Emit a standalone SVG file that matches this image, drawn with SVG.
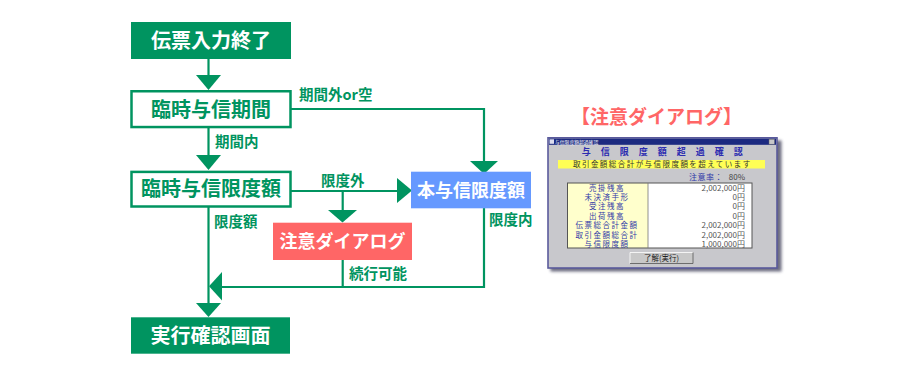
<svg xmlns="http://www.w3.org/2000/svg" width="900" height="379" viewBox="0 0 900 379">
<defs>
<style>
text{font-family:"Noto Sans CJK JP","Noto Sans",sans-serif}
.fill{fill:#009460}
.out{fill:#fff;stroke:#009460;stroke-width:2.5}
.bt{font-size:20px;font-weight:700;text-anchor:middle}
.w{fill:#fff}
.g{fill:#009460}
.lbl{font-size:14.5px;font-weight:700;fill:#009460}
.ln{fill:none;stroke:#009460;stroke-width:2.2}
.ah{fill:#009460}
.dl{font-size:7.5px;fill:#3038a8;text-anchor:middle;letter-spacing:1.5px}
.dv{font-size:8px;fill:#555;text-anchor:end}
</style>
<filter id="sh" x="-10%" y="-10%" width="120%" height="120%"><feGaussianBlur stdDeviation="1.5"/></filter>
</defs>
<rect width="900" height="379" fill="#fff"/>

<g id="connectors">
<line class="ln" x1="208.5" y1="59" x2="208.5" y2="76"/>
<polygon class="ah" points="196,75 221,75 208.5,90"/>
<line class="ln" x1="208.5" y1="128" x2="208.5" y2="156"/>
<polygon class="ah" points="196,155 221,155 208.5,170"/>
<polyline class="ln" points="291,109 484,109 484,162"/>
<polygon class="ah" points="470,161 498,161 484,174"/>
<line class="ln" x1="291" y1="191" x2="398" y2="191"/>
<polygon class="ah" points="397,178 397,203 412,190.5"/>
<line class="ln" x1="342.7" y1="191" x2="342.7" y2="211"/>
<polygon class="ah" points="328,210 357,210 342.5,222.5"/>
<polyline class="ln" points="484,208 484,287 221,287"/>
<polygon class="ah" points="222,272 222,300.5 209,286.3"/>
<line class="ln" x1="342.7" y1="260" x2="342.7" y2="287"/>
<line class="ln" x1="208.5" y1="207" x2="208.5" y2="304"/>
<polygon class="ah" points="196,303 221,303 208.5,317"/>
<text class="lbl" x="299" y="100">期間外or空</text>
<text class="lbl" x="215" y="147">期間内</text>
<text class="lbl" x="321" y="185.5">限度外</text>
<text class="lbl" x="214" y="227">限度額</text>
<text class="lbl" x="489" y="225">限度内</text>
<text class="lbl" x="349" y="279">続行可能</text>
</g>

<g id="n-start">
<rect class="fill" x="131" y="22" width="160" height="37"/>
<text class="bt w" x="211" y="47.5">伝票入力終了</text>
</g>
<g id="n-period">
<rect class="out" x="131.5" y="91.25" width="159" height="35.8"/>
<text class="bt g" x="211" y="116.5">臨時与信期間</text>
</g>
<g id="n-templimit">
<rect class="out" x="131.5" y="171.9" width="159" height="34.6"/>
<text class="bt g" x="211" y="196">臨時与信限度額</text>
</g>
<g id="n-mainlimit">
<rect x="411" y="171.7" width="120" height="36.6" fill="#6699ff"/>
<text class="bt w" x="471" y="196.5" style="font-size:18px">本与信限度額</text>
</g>
<g id="n-caution">
<rect x="273" y="222.7" width="139" height="37.3" fill="#ff6666"/>
<text class="bt w" x="342.5" y="248" style="font-size:18px">注意ダイアログ</text>
</g>
<g id="n-confirm">
<rect class="fill" x="131" y="317.3" width="159" height="36.4"/>
<text class="bt w" x="210.5" y="342.5">実行確認画面</text>
</g>

<g id="dialog-sample">
<text x="656.5" y="124" style="font-size:19px;font-weight:700;fill:#ff6666;text-anchor:middle">【注意ダイアログ】</text>
<rect x="550.5" y="140.5" width="231" height="131" fill="#3a3a55" opacity="0.75" filter="url(#sh)"/>
<rect x="548" y="137.8" width="229" height="130.2" fill="#c8c8cc" stroke="#5a5a9c" stroke-width="1.6"/>
<rect x="549" y="138.6" width="227" height="6.2" fill="#1c2a80"/>
<rect x="549.5" y="139.3" width="4.5" height="4.5" fill="#dde"/>
<text x="555" y="143.6" style="font-size:4.8px;fill:#fff">与信限度額超過確認</text>
<rect x="769" y="139.2" width="5.5" height="5" fill="#c8c8c8" stroke="#666" stroke-width="0.5"/>
<text x="581.7" y="155" style="font-size:9px;font-weight:700;fill:#2b2bb0;letter-spacing:10px">与信限度額超過確認</text>
<rect x="558" y="160" width="207" height="8.5" fill="#ffff55"/>
<text x="573" y="167" style="font-size:7.5px;fill:#333;letter-spacing:1.45px">取引金額総合計が与信限度額を超えています</text>
<text x="689" y="180" style="font-size:8px;fill:#3038a8;letter-spacing:0.5px">注意率：</text>
<text x="745" y="180" class="dv" style="fill:#444">80%</text>
<rect x="567.5" y="183" width="80.5" height="65" fill="#ffffcc"/>
<rect x="648" y="183" width="104" height="65" fill="#fff"/>
<rect x="567.5" y="183" width="184.5" height="65" fill="none" stroke="#555" stroke-width="1"/>
<line x1="648" y1="183" x2="648" y2="248" stroke="#777" stroke-width="0.8"/>
<text class="dl" x="607" y="190.5">売掛残高</text>
<text class="dl" x="607" y="199.9">未決済手形</text>
<text class="dl" x="607" y="209.3">受注残高</text>
<text class="dl" x="607" y="218.7">出荷残高</text>
<text class="dl" x="607" y="228.1">伝票総合計金額</text>
<text class="dl" x="607" y="237.5">取引金額総合計</text>
<text class="dl" x="607" y="246.9">与信限度額</text>
<text class="dv" x="745" y="190.5">2,002,000円</text>
<text class="dv" x="745" y="199.9">0円</text>
<text class="dv" x="745" y="209.3">0円</text>
<text class="dv" x="745" y="218.7">0円</text>
<text class="dv" x="745" y="228.1">2,002,000円</text>
<text class="dv" x="745" y="237.5">2,002,000円</text>
<text class="dv" x="745" y="246.9">1,000,000円</text>
<rect x="630" y="252.5" width="63" height="11" fill="#c8c8c8"/>
<polyline points="630,263.5 630,252.5 693,252.5" fill="none" stroke="#fff" stroke-width="0.8"/>
<polyline points="630,263.5 693,263.5 693,252.5" fill="none" stroke="#555" stroke-width="0.8"/>
<text x="661.5" y="261" style="font-size:7.5px;fill:#222;text-anchor:middle">了解(実行)</text>
</g>
</svg>
